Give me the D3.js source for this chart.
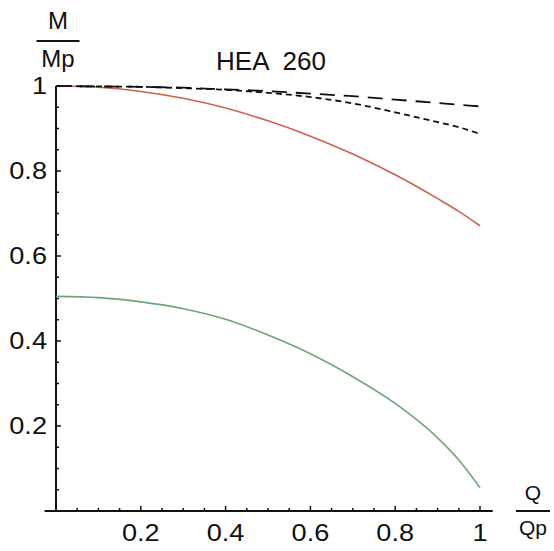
<!DOCTYPE html>
<html>
<head>
<meta charset="utf-8">
<script src="https://cdn.jsdelivr.net/npm/d3@7"></script>
<style>
  html, body { margin: 0; padding: 0; background: #fff; }
  svg { display: block; }
  text { font-family: "Liberation Sans", Arial, sans-serif; fill: #111; }
</style>
</head>
<body>
<svg id="chart" width="554" height="551"></svg>
<script>
// Shear ratio Q/Qp at which each curve is sampled
const shear = [0, 0.1, 0.2, 0.3, 0.4, 0.5, 0.6, 0.7, 0.8, 0.9, 0.95, 1.0];

// Moment ratio M/Mp for each curve
const redCurve   = [1.000, 0.997, 0.987, 0.971, 0.948, 0.918, 0.882, 0.840, 0.791, 0.735, 0.705, 0.671];
const greenCurve = [0.505, 0.502, 0.492, 0.476, 0.451, 0.414, 0.370, 0.316, 0.253, 0.172, 0.120, 0.055];
const longDash   = [1.000, 0.999, 0.998, 0.996, 0.992, 0.988, 0.982, 0.976, 0.968, 0.960, 0.956, 0.952];
const shortDash  = [1.000, 0.999, 0.998, 0.995, 0.991, 0.984, 0.974, 0.959, 0.938, 0.915, 0.903, 0.887];

const xTickLabels = ["0.2", "0.4", "0.6", "0.8", "1"];
const yTickLabels = ["0.2", "0.4", "0.6", "0.8", "1"];
const majorTicks = [0.2, 0.4, 0.6, 0.8, 1.0];
const minorTicks = d3.range(1, 21).map(i => i * 0.05);

const svg = d3.select("#chart");
const x = d3.scaleLinear().domain([0, 1]).range([56, 480]);
const y = d3.scaleLinear().domain([0, 1]).range([511, 86]);

// Axes
const axisG = svg.append("g").attr("stroke", "#111");
axisG.append("line")
  .attr("x1", x(-0.027)).attr("x2", x(1.03))
  .attr("y1", y(0)).attr("y2", y(0))
  .attr("stroke-width", 2);
axisG.append("line")
  .attr("x1", x(0)).attr("x2", x(0))
  .attr("y1", y(0)).attr("y2", y(1))
  .attr("stroke-width", 2);

// Minor and major ticks
const isMajor = d => majorTicks.some(m => Math.abs(m - d) < 1e-9);
axisG.selectAll(".xt").data(minorTicks).join("line")
  .attr("x1", d => x(d)).attr("x2", d => x(d))
  .attr("y1", y(0)).attr("y2", d => y(0) - (isMajor(d) ? 5 : 3))
  .attr("stroke-width", 1.5);
axisG.selectAll(".yt").data(minorTicks).join("line")
  .attr("y1", d => y(d)).attr("y2", d => y(d))
  .attr("x1", x(0)).attr("x2", d => x(0) + (isMajor(d) ? 5 : 3))
  .attr("stroke-width", 1.5);

// Tick labels (slightly widened lettering)
svg.selectAll(".xl").data(majorTicks).join("text")
  .attr("transform", d => `translate(${x(d)},${y(0) + 30}) scale(1.18,1)`)
  .attr("text-anchor", "middle").attr("font-size", 23)
  .text((d, i) => xTickLabels[i]);
svg.selectAll(".yl").data(majorTicks).join("text")
  .attr("transform", d => `translate(${x(0) - 9},${y(d) + 8}) scale(1.18,1)`)
  .attr("text-anchor", "end").attr("font-size", 23)
  .text((d, i) => yTickLabels[i]);

// Axis labels drawn as fractions
function fraction(cx, top, bottom, barY, w) {
  svg.append("text").attr("x", cx).attr("y", top.y)
    .attr("text-anchor", "middle").attr("font-size", top.size).text(top.t);
  svg.append("line").attr("x1", cx - w / 2).attr("x2", cx + w / 2)
    .attr("y1", barY).attr("y2", barY).attr("stroke", "#111").attr("stroke-width", 2);
  svg.append("text").attr("x", cx).attr("y", bottom.y)
    .attr("text-anchor", "middle").attr("font-size", bottom.size).text(bottom.t);
}
fraction(58, { t: "M", y: 29, size: 24 }, { t: "Mp", y: 67, size: 24 }, 41, 43);
fraction(533, { t: "Q", y: 500, size: 21 }, { t: "Qp", y: 535, size: 21 }, 511, 34);

// Title
svg.append("text").attr("x", 271).attr("y", 70)
  .attr("text-anchor", "middle").attr("font-size", 26)
  .attr("xml:space", "preserve").text("HEA  260");

// Curves
const line = vals => d3.line()
  .x((d, i) => x(shear[i]))
  .y(d => y(d))
  .curve(d3.curveMonotoneX)(vals);

svg.append("path").attr("d", line(greenCurve))
  .attr("fill", "none").attr("stroke", "#6fa57a").attr("stroke-width", 1.6);
svg.append("path").attr("d", line(redCurve))
  .attr("fill", "none").attr("stroke", "#cf6150").attr("stroke-width", 1.6);
svg.append("path").attr("d", line(longDash))
  .attr("fill", "none").attr("stroke", "#111").attr("stroke-width", 1.8)
  .attr("stroke-dasharray", "15,9");
svg.append("path").attr("d", line(shortDash))
  .attr("fill", "none").attr("stroke", "#111").attr("stroke-width", 1.8)
  .attr("stroke-dasharray", "6,4");
</script>
</body>
</html>
